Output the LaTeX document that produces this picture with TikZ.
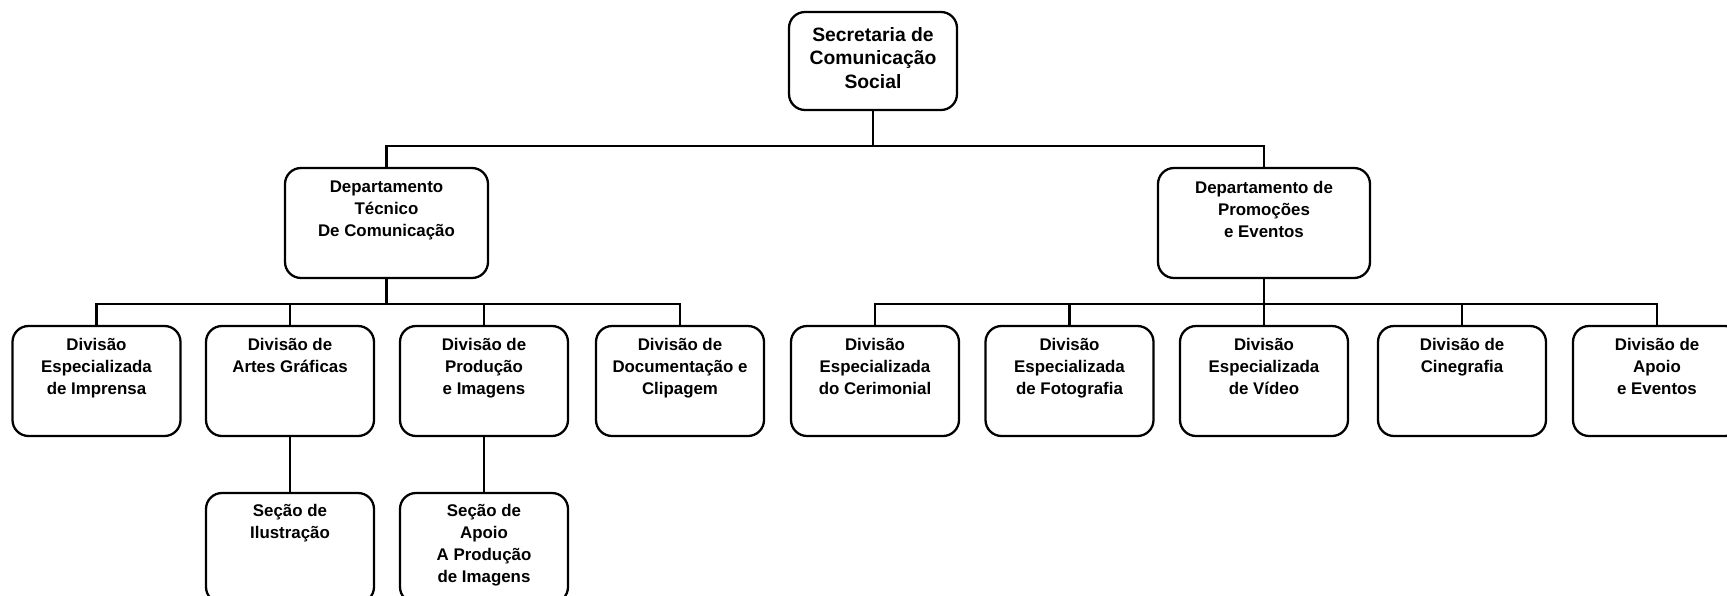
\documentclass[tikz,border=0pt]{standalone}
\usepackage{fontspec}
\setmainfont{Liberation Sans}
\usepackage{tikz}

\begin{document}
\begin{tikzpicture}
\tikzstyle{orgbox}=[draw, line width=1.3pt, rounded corners=0.32cm, inner sep=0pt, minimum width=3.36cm, minimum height=2.2cm]
\tikzstyle{orgtext}=[align=center, anchor=north, inner sep=0pt, font=\fontsize{9.6}{12.5}\selectfont\bfseries]
\tikzstyle{orgline}=[line width=1.3pt]
\useasboundingbox (0,0) rectangle (34.54,-11.92);
% topo
\node (sec) [orgbox, minimum height=1.96cm] at (17.46,-1.22) {};
\node (sect) [orgtext, font=\fontsize{11}{13.4}\selectfont\bfseries] at ([yshift=-0.32cm]sec.north) {Secretaria de\\Comunicação\\Social};
% departamentos
\node (dtc) [orgbox, minimum width=4.06cm] at (7.73,-4.46) {};
\node (dtct) [orgtext] at ([yshift=-0.28cm]dtc.north) {Departamento\\Técnico\\De Comunicação};
\node (dpe) [orgbox, minimum width=4.24cm] at (25.28,-4.46) {};
\node (dpet) [orgtext] at ([yshift=-0.28cm]dpe.north) {Departamento de\\Promoções\\e Eventos};
% divisoes
\node (d1) [orgbox] at (1.93,-7.62) {};
\node (d1t) [orgtext] at ([yshift=-0.26cm]d1.north) {Divisão\\Especializada\\de Imprensa};
\node (d2) [orgbox] at (5.80,-7.62) {};
\node (d2t) [orgtext] at ([yshift=-0.26cm]d2.north) {Divisão de\\Artes Gráficas};
\node (d3) [orgbox] at (9.68,-7.62) {};
\node (d3t) [orgtext] at ([yshift=-0.26cm]d3.north) {Divisão de\\Produção\\e Imagens};
\node (d4) [orgbox] at (13.60,-7.62) {};
\node (d4t) [orgtext] at ([yshift=-0.26cm]d4.north) {Divisão de\\Documentação e\\Clipagem};
\node (d5) [orgbox] at (17.50,-7.62) {};
\node (d5t) [orgtext] at ([yshift=-0.26cm]d5.north) {Divisão\\Especializada\\do Cerimonial};
\node (d6) [orgbox] at (21.39,-7.62) {};
\node (d6t) [orgtext] at ([yshift=-0.26cm]d6.north) {Divisão\\Especializada\\de Fotografia};
\node (d7) [orgbox] at (25.28,-7.62) {};
\node (d7t) [orgtext] at ([yshift=-0.26cm]d7.north) {Divisão\\Especializada\\de Vídeo};
\node (d8) [orgbox] at (29.24,-7.62) {};
\node (d8t) [orgtext] at ([yshift=-0.26cm]d8.north) {Divisão de\\Cinegrafia};
\node (d9) [orgbox] at (33.14,-7.62) {};
\node (d9t) [orgtext] at ([yshift=-0.26cm]d9.north) {Divisão de\\Apoio\\e Eventos};
% secoes
\node (s1) [orgbox] at (5.80,-10.96) {};
\node (s1t) [orgtext] at ([yshift=-0.24cm]s1.north) {Seção de\\Ilustração};
\node (s2) [orgbox] at (9.68,-10.96) {};
\node (s2t) [orgtext] at ([yshift=-0.24cm]s2.north) {Seção de\\Apoio\\A Produção\\de Imagens};
% ligacoes
\draw[orgline] (sec.south) -- ++(0,-0.7) -| (dtc.north);
\draw[orgline] (sec.south) -- ++(0,-0.7) -| (dpe.north);
\draw[orgline] (dtc.south) -- ++(0,-0.5) -| (d1.north);
\draw[orgline] (dtc.south) -- ++(0,-0.5) -| (d2.north);
\draw[orgline] (dtc.south) -- ++(0,-0.5) -| (d3.north);
\draw[orgline] (dtc.south) -- ++(0,-0.5) -| (d4.north);
\draw[orgline] (dpe.south) -- ++(0,-0.5) -| (d5.north);
\draw[orgline] (dpe.south) -- ++(0,-0.5) -| (d6.north);
\draw[orgline] (dpe.south) -- ++(0,-0.5) -| (d7.north);
\draw[orgline] (dpe.south) -- ++(0,-0.5) -| (d8.north);
\draw[orgline] (dpe.south) -- ++(0,-0.5) -| (d9.north);
\draw[orgline] (d2.south) -- (s1.north);
\draw[orgline] (d3.south) -- (s2.north);
\end{tikzpicture}
\end{document}
